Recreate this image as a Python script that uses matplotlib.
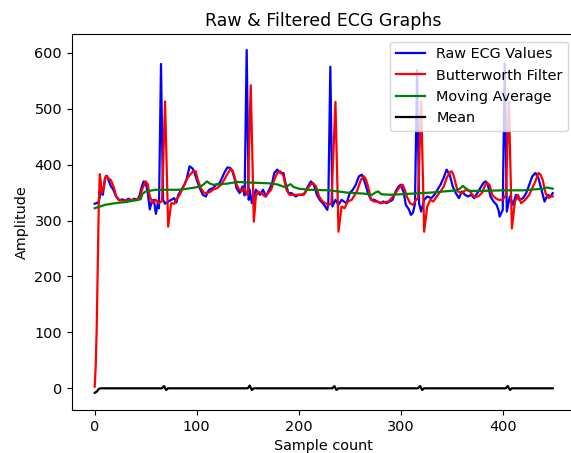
import matplotlib
matplotlib.use('Agg')
import matplotlib.pyplot as plt

plt.rcParams['font.size'] = 10.4
plt.rcParams['lines.linewidth'] = 1.6

# Raw ECG values (sample index, amplitude)
raw_x = [0, 2, 4, 6, 8, 10, 12, 14, 16, 18, 21, 24, 27, 30, 33, 36, 39, 42, 44, 46,
         48, 50, 52, 54, 56, 58, 60, 62, 63, 65, 67, 69, 72, 75, 78, 80, 82, 85, 88, 90,
         93, 96, 98, 100, 103, 106, 109, 111, 113, 116, 119, 122, 124, 127, 130, 133, 135, 137, 139, 142,
         145, 147, 149, 151, 152, 154, 158, 162, 165, 168, 171, 174, 176, 179, 182, 185, 187, 190, 193, 197,
         200, 203, 206, 209, 212, 215, 218, 221, 224, 226, 228, 229, 231, 233, 236, 239, 242, 245, 247, 250,
         253, 256, 259, 262, 265, 268, 271, 274, 277, 280, 283, 286, 289, 292, 295, 298, 300, 303, 305, 308,
         310, 312, 314, 316, 318, 320, 323, 326, 330, 333, 336, 339, 342, 345, 348, 351, 354, 357, 360, 363,
         366, 369, 372, 375, 378, 381, 383, 385, 388, 391, 394, 396, 397, 400, 402, 404, 407, 410, 413, 416,
         420, 423, 426, 429, 432, 435, 438, 441, 444, 447, 449]
raw_y = [330, 331, 334, 352, 346, 376, 380, 370, 361, 356, 343, 336, 338, 335, 339, 336, 339, 337, 345, 360,
         370, 368, 350, 320, 335, 337, 312, 333, 322, 580, 337, 330, 334, 337, 340, 332, 346, 355, 364, 373,
         397, 393, 385, 373, 358, 346, 343, 352, 356, 358, 364, 366, 373, 385, 395, 394, 388, 376, 358, 349,
         361, 345, 605, 337, 355, 331, 355, 346, 355, 343, 355, 367, 385, 391, 385, 385, 367, 349, 349, 343,
         346, 346, 349, 361, 370, 363, 345, 336, 330, 325, 319, 331, 575, 325, 337, 328, 337, 333, 331, 349,
         355, 364, 379, 382, 367, 349, 337, 337, 334, 331, 334, 331, 334, 337, 352, 361, 364, 350, 328, 320,
         310, 314, 330, 569, 331, 316, 337, 343, 340, 346, 355, 364, 376, 391, 382, 361, 349, 340, 352, 346,
         343, 346, 340, 349, 358, 367, 370, 367, 343, 334, 328, 318, 307, 319, 581, 316, 343, 328, 346, 337,
         340, 349, 364, 379, 385, 376, 355, 334, 346, 343, 349]

# Butterworth filtered signal
butter_x = [0, 1, 2, 3, 4, 5, 6, 7, 9, 11, 13, 16, 19, 21, 24, 28, 32, 36, 40, 44,
            47, 50, 52, 54, 57, 60, 63, 66, 69, 72, 75, 78, 80, 83, 87, 90, 93, 97, 99, 101,
            104, 107, 110, 113, 116, 120, 124, 127, 130, 133, 135, 137, 139, 141, 144, 146, 149, 150, 153, 156,
            158, 160, 163, 167, 170, 173, 176, 179, 182, 185, 188, 191, 195, 200, 205, 209, 212, 214, 217, 220,
            223, 226, 229, 232, 236, 239, 242, 245, 248, 252, 257, 261, 264, 266, 268, 271, 274, 277, 281, 285,
            288, 291, 294, 297, 300, 302, 304, 306, 309, 312, 315, 317, 320, 323, 326, 329, 332, 336, 339, 342,
            345, 348, 350, 352, 354, 356, 360, 364, 368, 372, 376, 380, 382, 384, 387, 390, 393, 396, 400, 403,
            406, 409, 412, 415, 418, 422, 426, 429, 432, 435, 437, 439, 442, 445, 447, 449]
butter_y = [3, 40, 110, 220, 330, 383, 370, 349, 360, 380, 376, 372, 358, 343, 337, 335, 336, 337, 337, 340,
            358, 370, 365, 343, 331, 337, 331, 335, 513, 289, 331, 330, 337, 345, 361, 373, 381, 389, 388, 373,
            358, 350, 349, 351, 355, 358, 364, 373, 383, 392, 390, 379, 365, 357, 352, 358, 349, 345, 542, 298,
            343, 352, 349, 343, 349, 355, 373, 385, 388, 380, 355, 346, 346, 346, 346, 358, 365, 367, 361, 343,
            335, 331, 328, 330, 512, 280, 325, 322, 334, 337, 352, 373, 379, 373, 361, 337, 334, 334, 331, 333,
            334, 340, 346, 355, 362, 364, 355, 343, 331, 328, 337, 340, 513, 280, 325, 337, 334, 345, 352, 360,
            376, 386, 388, 380, 365, 352, 349, 355, 352, 342, 343, 350, 360, 367, 364, 345, 340, 337, 337, 345,
            513, 286, 334, 346, 331, 337, 346, 358, 370, 385, 382, 374, 349, 340, 343, 343]

# Moving average
mavg_x = [0, 10, 20, 30, 40, 45, 47, 50, 60, 70, 83, 95, 104, 107, 110, 113, 116, 130, 140, 150,
          165, 175, 180, 186, 189, 192, 195, 200, 210, 230, 247, 265, 272, 275, 278, 281, 290, 310, 330, 355,
          358, 361, 364, 368, 380, 400, 420, 440, 443, 449]
mavg_y = [322, 328, 331, 333, 336, 338, 348, 352, 355, 355, 355, 358, 361, 365, 370, 366, 364, 366, 369, 368,
          367, 366, 364, 360, 362, 365, 360, 357, 355, 354, 350, 348, 346, 350, 352, 347, 346, 348, 350, 354,
          357, 362, 357, 353, 353, 354, 354, 357, 359, 357]

# Mean
mean_x = [0, 2, 4, 6, 60, 66, 68, 70, 72, 145, 150, 152, 154, 156, 228, 233, 235, 237, 239, 312,
          317, 319, 321, 323, 398, 403, 405, 407, 409, 449]
mean_y = [-8, -6, -1, 0, 0, 0, 4, -3, 0, 0, 0, 5, -3, 0, 0, 0, 4, -3, 0, 0,
          0, 4, -3, 0, 0, 0, 4, -3, 0, 0]

fig = plt.figure(figsize=(5.71, 4.53), dpi=100)
# the reference is cropped on the right, so the axes run past the figure edge
ax = fig.add_axes([71.8 / 571, 43 / 453, (575.6 - 71.8) / 571, (410 - 34.3) / 453])

ax.plot(raw_x, raw_y, color='b', label='Raw ECG Values')
ax.plot(butter_x, butter_y, color='r', label='Butterworth Filter')
ax.plot(mavg_x, mavg_y, color='g', label='Moving Average')
ax.plot(mean_x, mean_y, color='k', label='Mean')

ax.set_xlim(-22.45, 471.45)
ax.set_ylim(-38.8, 633)
ax.spines['right'].set_visible(False)
ax.set_title('Raw & Filtered ECG Graphs')
ax.set_xlabel('Sample count')
ax.set_ylabel('Amplitude')
ax.legend(loc='upper right')

fig.savefig('out.png', dpi=100)
